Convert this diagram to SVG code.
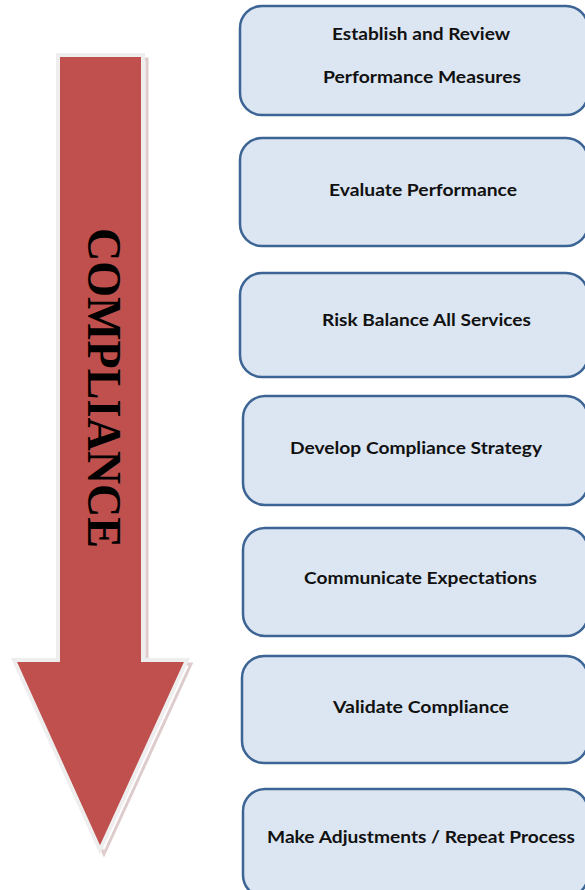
<svg xmlns="http://www.w3.org/2000/svg" width="585" height="890" viewBox="0 0 585 890">
<style>
.box{fill:#dce6f2;stroke:#3c6494;stroke-width:2.5}
.lbl{font-family:Lato,"Liberation Sans",sans-serif;font-weight:bold;font-size:17.5px;fill:#111;text-anchor:middle}
</style>
<rect width="585" height="890" fill="#fff"/>
<g id="arrow">
<polygon points="60,57 145,57 145,662 189,662 102,852 16,662 60,662" fill="none" stroke="#c8a8a8" stroke-width="3" transform="translate(2,2)" opacity="0.6"/>
<polygon points="58,55 143,55 143,660 187,660 100,850 14,660 58,660" fill="#c0504d" stroke="#eeeeee" stroke-width="4" stroke-linejoin="miter"/>
<text transform="translate(88,228) rotate(90)" font-family="'Liberation Serif',serif" font-weight="bold" font-size="48" textLength="320" lengthAdjust="spacingAndGlyphs" fill="#000">COMPLIANCE</text>
</g>
<g id="n1"><rect class="box" x="240" y="6" width="348" height="109" rx="22"/>
<text class="lbl" x="421" y="40" textLength="178" lengthAdjust="spacingAndGlyphs">Establish and Review</text>
<text class="lbl" x="422" y="83" textLength="198" lengthAdjust="spacingAndGlyphs">Performance Measures</text></g>
<g id="n2"><rect class="box" x="240" y="138" width="348" height="108" rx="22"/>
<text class="lbl" x="423" y="196" textLength="188" lengthAdjust="spacingAndGlyphs">Evaluate Performance</text></g>
<g id="n3"><rect class="box" x="240" y="273" width="348" height="104" rx="22"/>
<text class="lbl" x="426.5" y="326" textLength="209" lengthAdjust="spacingAndGlyphs">Risk Balance All Services</text></g>
<g id="n4"><rect class="box" x="243" y="396" width="345" height="109" rx="22"/>
<text class="lbl" x="416" y="454" textLength="252" lengthAdjust="spacingAndGlyphs">Develop Compliance Strategy</text></g>
<g id="n5"><rect class="box" x="243" y="528" width="345" height="108" rx="22"/>
<text class="lbl" x="420.5" y="584" textLength="233" lengthAdjust="spacingAndGlyphs">Communicate Expectations</text></g>
<g id="n6"><rect class="box" x="242" y="656" width="346" height="107" rx="22"/>
<text class="lbl" x="421" y="713" textLength="176" lengthAdjust="spacingAndGlyphs">Validate Compliance</text></g>
<g id="n7"><rect class="box" x="243" y="789" width="345" height="108" rx="22"/>
<text class="lbl" x="421" y="843" textLength="308" lengthAdjust="spacingAndGlyphs">Make Adjustments / Repeat Process</text></g>
<g id="connectors"></g>
</svg>
